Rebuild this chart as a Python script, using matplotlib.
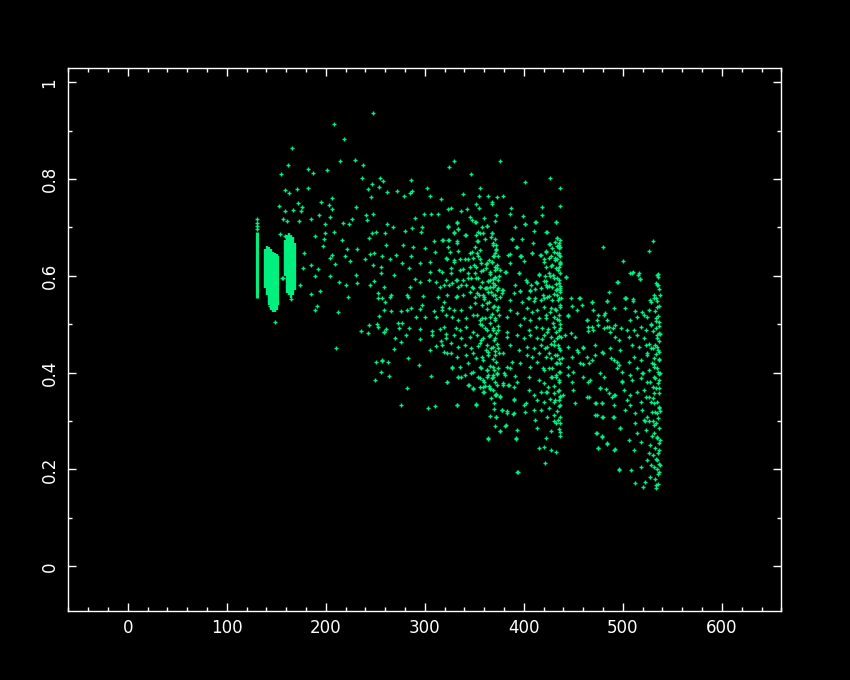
import numpy as np
import matplotlib
matplotlib.use("Agg")
import matplotlib.pyplot as plt
from matplotlib.ticker import MultipleLocator

GREEN = "#00f080"

# ---- axis ticks / labels ----
x_ticks = [0, 100, 200, 300, 400, 500, 600]
x_labels = ["0", "100", "200", "300", "400", "500", "600"]
y_ticks = [0.0, 0.2, 0.4, 0.6, 0.8, 1.0]
y_labels = ["0", "0.2", "0.4", "0.6", "0.8", "1"]

# ---- dense vertical bands of points (x, y low, y high) ----
line_x  = [131]
line_lo = [0.555]
line_hi = [0.690]
band_x  = [139, 141, 143, 145, 147, 149, 151, 152, 159, 161, 163, 165, 167, 169]
band_lo = [0.575, 0.560, 0.540, 0.530, 0.525, 0.525, 0.530, 0.540, 0.600, 0.565, 0.560, 0.555, 0.560, 0.570]
band_hi = [0.655, 0.662, 0.660, 0.655, 0.650, 0.648, 0.645, 0.640, 0.675, 0.685, 0.688, 0.685, 0.680, 0.668]

# ---- scattered points, x < 260 ----
pts_a = [(131,0.696),(131,0.703),(131,0.710),(131,0.718),
(248,0.936),(208,0.914),(218,0.882),(166,0.865),(162,0.830),(214,0.837),(229,0.839),(238,0.830),
(182,0.820),(201,0.819),(187,0.812),(155,0.810),(237,0.803),(255,0.803),(258,0.795),(247,0.790),
(254,0.783),(159,0.777),(171,0.779),(182,0.782),(163,0.771),(243,0.779),(206,0.760),(246,0.762),
(172,0.750),(195,0.752),(203,0.746),(153,0.745),(176,0.742),(230,0.743),(159,0.733),(167,0.736),
(175,0.733),(193,0.726),(206,0.738),(157,0.718),(161,0.713),(173,0.713),(185,0.718),(204,0.721),
(226,0.717),(241,0.726),(248,0.728),(199,0.707),(217,0.710),(223,0.707),(242,0.715),(199,0.688),
(208,0.691),(216,0.674),(189,0.683),(247,0.688),(251,0.690),(244,0.679),(198,0.676),(178,0.647),
(197,0.662),(206,0.643),(219,0.640),(221,0.655),(232,0.655),(245,0.645),(249,0.647),(204,0.636),
(224,0.631),(240,0.635),(248,0.623),(256,0.619),(257,0.640),(185,0.623),(209,0.625),(177,0.616),
(192,0.614),(189,0.600),(204,0.600),(220,0.581),(213,0.588),(230,0.602),(232,0.586),(249,0.589),
(245,0.581),(256,0.605),(185,0.563),(194,0.569),(174,0.581),(157,0.595),(222,0.557),(253,0.564),
(257,0.555),(149,0.505),(144,0.538),(189,0.530),(191,0.538),(212,0.526),(165,0.552),(210,0.450),
(236,0.487),(243,0.481),(244,0.498),(252,0.501),(253,0.494),(254,0.518),(259,0.530),(259,0.485),
(257,0.425),(251,0.423),(256,0.402),(250,0.385),(253,0.555),(154,0.687),(159,0.683),(156,0.596)]

# ---- scattered points, upper middle ----
pts_b = [(329,0.838),(376,0.837),(324,0.824),(347,0.811),(286,0.798),(302,0.782),(356,0.782),(262,0.774),
(272,0.775),(287,0.776),(279,0.766),(285,0.772),(305,0.766),(339,0.769),(355,0.766),(364,0.766),
(373,0.762),(379,0.766),(316,0.758),(368,0.753),(368,0.748),(352,0.749),(387,0.740),(323,0.738),
(326,0.740),(299,0.727),(313,0.727),(306,0.728),(337,0.733),(343,0.738),(355,0.740),(372,0.726),
(386,0.727),(290,0.720),(346,0.722),(360,0.719),(348,0.716),(352,0.712),(262,0.707),(332,0.711),
(323,0.701),(363,0.702),(368,0.689),(391,0.700),(297,0.700),(280,0.693),(287,0.698),(296,0.691),
(260,0.689),(268,0.700),(333,0.696),(354,0.691),(359,0.688),(329,0.689),(342,0.684),(309,0.672),
(318,0.674),(324,0.674),(332,0.673),(353,0.672),(369,0.667),(388,0.676),(278,0.664),(288,0.660),
(300,0.658),(261,0.664),(348,0.650),(356,0.653),(372,0.664),(371,0.647),(392,0.660),(310,0.650),
(325,0.650),(333,0.652),(271,0.643),(286,0.642),(265,0.635),(322,0.635),(329,0.632),(344,0.635),
(356,0.635),(365,0.633),(369,0.640),(384,0.643),(277,0.626),(295,0.626),(305,0.629),(269,0.602),
(284,0.616),(314,0.612),(326,0.616),(339,0.614),(350,0.623),(362,0.616),(371,0.619),(382,0.607),
(305,0.609),(290,0.594),(295,0.588),(304,0.592),(311,0.588),(332,0.592),(344,0.595),(352,0.595),
(366,0.592),(371,0.595),(391,0.581),(259,0.578),(285,0.576),(315,0.576),(324,0.581),(337,0.581),
(348,0.578),(356,0.576),(363,0.574),(369,0.578),(373,0.571),(379,0.571),(265,0.557),(282,0.561),
(298,0.559),(313,0.557),(332,0.558),(351,0.557),(360,0.557),(371,0.561),(378,0.564),(390,0.565)]

# ---- scattered points, upper right ----
pts_c = [(426,0.803),(401,0.793),(437,0.782),(436,0.745),(418,0.743),(418,0.726),(399,0.724),(411,0.712),
(432,0.712),(401,0.707),(410,0.693),(422,0.690),(398,0.676),(433,0.678),(409,0.667),(426,0.665),
(431,0.669),(435,0.664),(393,0.660),(408,0.648),(416,0.643),(422,0.652),(428,0.657),(433,0.647),
(437,0.640),(397,0.642),(420,0.635),(425,0.636),(431,0.633),(436,0.629),(422,0.618),(432,0.616),
(435,0.619),(395,0.605),(415,0.602),(426,0.600),(433,0.595),(443,0.598),(402,0.592),(412,0.588),
(420,0.590),(435,0.585),(407,0.581),(422,0.581),(428,0.578),(433,0.572),(437,0.567),(396,0.569),
(406,0.569),(411,0.573),(425,0.559),(435,0.555),(404,0.555),(411,0.554),(420,0.555),(456,0.555),
(480,0.659),(530,0.671),(526,0.652),(500,0.631),(507,0.605),(510,0.609),(515,0.602),(517,0.594),
(534,0.602),(535,0.581),(495,0.588),(486,0.567),(503,0.555),(510,0.552),(533,0.555),(448,0.555)]

# ---- scattered points, lower left-middle ----
pts_d = [(266,0.561),(283,0.557),(260,0.545),(266,0.527),(276,0.527),(282,0.530),(286,0.533),(295,0.532),
(297,0.540),(291,0.516),(300,0.514),(309,0.528),(311,0.516),(317,0.530),(319,0.547),(273,0.502),
(277,0.502),(284,0.492),(261,0.490),(274,0.493),(295,0.490),(307,0.487),(315,0.490),(321,0.479),
(259,0.483),(281,0.478),(270,0.471),(295,0.470),(307,0.477),(316,0.466),(276,0.463),(311,0.456),
(305,0.447),(269,0.449),(319,0.443),(326,0.440),(257,0.426),(263,0.423),(283,0.430),(294,0.416),
(327,0.411),(264,0.394),(306,0.394),(282,0.369),(322,0.381),(334,0.390),(337,0.392),(276,0.333),
(303,0.326),(310,0.331),(332,0.333),(352,0.335),(345,0.375),(349,0.366),(359,0.371),(360,0.361),
(366,0.366),(372,0.354),(376,0.352),(373,0.375),(379,0.378),(384,0.375),(390,0.370),(390,0.346),
(383,0.321),(378,0.322),(389,0.315),(372,0.309),(382,0.291),(376,0.280),(364,0.263),(392,0.263),
(393,0.195),(393,0.282),(386,0.409),(391,0.394),(393,0.380),(360,0.381),(369,0.395),(380,0.399),
(381,0.395),(363,0.390)]

# ---- scattered points, main dense area ----
pts_e = [(332,0.710),(351,0.712),(371,0.714),(401,0.707),(412,0.712),(432,0.712),(323,0.702),(333,0.696),
(358,0.700),(363,0.702),(368,0.688),(329,0.691),(341,0.684),(352,0.684),(356,0.688),(367,0.681),
(354,0.673),(388,0.676),(433,0.678),(317,0.674),(323,0.674),(361,0.676),(371,0.676),(423,0.691),
(435,0.667),(425,0.666),(397,0.641),(435,0.657),(430,0.650),(351,0.660),(369,0.664),(323,0.660),
(332,0.667),(346,0.647),(353,0.647),(372,0.653),(386,0.645),(408,0.648),(417,0.643),(422,0.650),
(427,0.640),(435,0.643),(321,0.636),(329,0.629),(336,0.634),(341,0.634),(349,0.636),(354,0.640),
(357,0.626),(363,0.626),(368,0.629),(373,0.622),(346,0.619),(352,0.619),(400,0.631),(420,0.629),
(428,0.622),(433,0.634),(437,0.626),(386,0.626),(396,0.641),
(317,0.609),(326,0.605),(336,0.612),(344,0.605),(351,0.605),(359,0.612),(366,0.609),(371,0.612),
(376,0.612),(381,0.607),(395,0.605),(415,0.603),(425,0.605),(436,0.605),(321,0.591),(331,0.591),
(339,0.591),(347,0.595),(354,0.595),(358,0.588),(364,0.590),(369,0.593),(374,0.591),(403,0.588),
(413,0.586),(422,0.590),(430,0.595),(443,0.598),(509,0.605),(516,0.605),(535,0.604),(494,0.588),
(517,0.593),(534,0.581),
(319,0.581),(327,0.585),(334,0.578),(342,0.581),(349,0.574),(356,0.578),(361,0.574),(366,0.578),
(371,0.581),(378,0.571),(396,0.569),(406,0.571),(417,0.574),(423,0.578),(432,0.571),(437,0.574),
(322,0.560),(331,0.557),(339,0.560),(346,0.567),(353,0.564),(359,0.560),(364,0.567),(369,0.560),
(376,0.557),(386,0.550),(398,0.547),(405,0.554),(410,0.549),(417,0.550),(423,0.557),(433,0.560),
(438,0.554),(457,0.554),(469,0.545),(484,0.549),(502,0.555),(510,0.549),(531,0.554),(528,0.547),
(317,0.536),(324,0.533),(329,0.529),(337,0.529),(346,0.536),(351,0.543),(358,0.540),(363,0.543),
(369,0.536),(374,0.536),(386,0.529),(393,0.523),(403,0.533),(408,0.526),(413,0.529),(420,0.536),
(427,0.533),(432,0.529),(437,0.535),(445,0.519),(449,0.538),(454,0.529),(459,0.540),(470,0.529),
(482,0.523),(491,0.533),(502,0.533),(512,0.528),(519,0.526),(526,0.529),(534,0.536),(321,0.519),
(327,0.516),(334,0.509),(342,0.512),(349,0.519),(356,0.509),(361,0.512),(366,0.516),(371,0.509),
(383,0.516),(400,0.512),(406,0.509),(415,0.512),(422,0.512),(430,0.516),(435,0.509),(464,0.509),
(474,0.509),(484,0.509),(507,0.509),(514,0.516),(524,0.516),(533,0.512),(536,0.505),
(319,0.495),(331,0.492),(336,0.488),(342,0.495),(349,0.485),(358,0.498),(363,0.488),(369,0.492),
(374,0.488),(383,0.485),(396,0.498),(405,0.488),(412,0.495),(418,0.492),(423,0.485),(430,0.495),
(435,0.488),(442,0.478),(448,0.481),(452,0.474),(465,0.495),(470,0.488),(475,0.498),(481,0.492),
(486,0.495),(492,0.498),(504,0.488),(511,0.488),(518,0.495),(523,0.488),(528,0.498),(533,0.492),
(536,0.481),(321,0.471),(329,0.478),(337,0.471),(346,0.474),(353,0.478),(359,0.471),(366,0.478),
(371,0.471),(383,0.474),(393,0.478),(400,0.471),(406,0.478),(413,0.471),(420,0.478),(427,0.474),
(433,0.471),(438,0.474),(506,0.474),(514,0.478),(521,0.471),(534,0.471),
(317,0.457),(326,0.461),(334,0.454),(341,0.457),(347,0.450),(356,0.461),(363,0.457),(369,0.454),
(374,0.450),(386,0.457),(395,0.447),(403,0.454),(410,0.450),(417,0.457),(423,0.454),(430,0.457),
(435,0.450),(445,0.454),(454,0.447),(460,0.450),(472,0.457),(479,0.443),(487,0.450),(497,0.447),
(509,0.457),(516,0.454),(523,0.457),(528,0.450),(534,0.454),(536,0.443),(322,0.440),(332,0.433),
(342,0.436),(349,0.440),(358,0.433),(364,0.443),(371,0.436),(379,0.440),(388,0.423),(403,0.436),
(408,0.433),(415,0.440),(422,0.433),(427,0.430),(433,0.436),(439,0.430),(449,0.433),(457,0.419),
(464,0.433),(469,0.426),(491,0.426),(496,0.416),(506,0.423),(511,0.433),(518,0.426),(524,0.436),
(531,0.430),(536,0.426),
(327,0.409),(336,0.412),(344,0.419),(349,0.402),(356,0.412),(363,0.405),(369,0.412),(373,0.399),
(383,0.412),(396,0.419),(406,0.412),(413,0.423),(420,0.405),(425,0.409),(432,0.419),(435,0.402),
(445,0.412),(450,0.402),(460,0.392),(467,0.385),(477,0.399),(494,0.409),(499,0.402),(507,0.395),
(514,0.409),(519,0.399),(526,0.405),(531,0.412),(535,0.402),(322,0.381),(334,0.392),(341,0.395),
(347,0.399),(354,0.392),(359,0.385),(364,0.395),(369,0.392),(379,0.374),(405,0.392),(415,0.385),
(420,0.378),(427,0.392),(432,0.395),(435,0.385),(449,0.381),(465,0.381),(481,0.392),(499,0.381),
(509,0.385),(518,0.388),(524,0.381),(531,0.392),(536,0.385),
(349,0.368),(359,0.361),(366,0.368),(371,0.354),(376,0.350),(385,0.374),(390,0.343),(405,0.364),
(410,0.354),(417,0.361),(423,0.361),(430,0.357),(435,0.364),(440,0.354),(450,0.364),(464,0.350),
(477,0.368),(486,0.357),(491,0.354),(501,0.364),(507,0.354),(514,0.361),(521,0.364),(526,0.350),
(531,0.357),(536,0.368),(344,0.374),(356,0.371),(402,0.337),(413,0.343),(420,0.340),(430,0.340),
(435,0.343),(437,0.333),(425,0.326),(410,0.323),(400,0.333),
(332,0.333),(352,0.333),(378,0.323),(383,0.317),(390,0.316),(401,0.319),(417,0.323),(423,0.309),
(430,0.312),(434,0.302),(437,0.295),(472,0.337),(479,0.337),(491,0.333),(474,0.312),(480,0.309),
(491,0.309),(502,0.323),(507,0.333),(512,0.316),(519,0.323),(524,0.309),(529,0.319),(534,0.316),
(536,0.330),(531,0.337),(518,0.340),(504,0.343),
(372,0.309),(381,0.290),(376,0.280),(364,0.264),(392,0.264),(411,0.303),(413,0.285),(422,0.266),
(420,0.247),(415,0.244),(427,0.240),(432,0.237),(437,0.277),(473,0.275),(475,0.244),(479,0.268),
(484,0.254),(491,0.241),(497,0.285),(506,0.261),(511,0.240),(514,0.275),(518,0.257),(523,0.281),
(526,0.233),(531,0.292),(534,0.268),(536,0.240),(521,0.302),(512,0.295),
(394,0.195),(421,0.213),(496,0.200),(508,0.199),(512,0.171),(520,0.164),(522,0.175),(527,0.185),
(533,0.168),(536,0.195),(531,0.206),(524,0.219),(518,0.206),(534,0.219),(533,0.161)]

# ---- scattered points between the right-hand groups ----
pts_f = [(445,0.518),(464,0.509),(469,0.545),(484,0.548),(502,0.555),(469,0.495),(465,0.487),(475,0.519),
(481,0.519),(484,0.494),(490,0.492),(487,0.485),(492,0.474),(496,0.467),(498,0.492),(455,0.443),
(460,0.452),(460,0.418),(466,0.419),(472,0.437),(480,0.440),(488,0.431),(494,0.423),(499,0.383),
(492,0.354),(489,0.350),(477,0.369),(483,0.366),(466,0.350),(452,0.337),(445,0.395),(473,0.337),
(479,0.337),(472,0.313),(479,0.309),(490,0.309),(497,0.285),(474,0.275),(479,0.269),(484,0.253),
(475,0.244),(492,0.242),(496,0.199)]

# ---- extra points along the three dense right edges ----
pts_g = [(372,0.655),(370,0.642),(368,0.628),(373,0.617),(366,0.603),(371,0.598),(369,0.585),(374,0.574),
(367,0.566),(372,0.553),(365,0.547),(370,0.538),(373,0.529),(368,0.521),(371,0.512),(366,0.503),
(374,0.497),(369,0.489),(372,0.481),(365,0.476),(370,0.468),(373,0.459),(367,0.451),(371,0.444),
(364,0.437),(369,0.428),(372,0.421),(366,0.414),(370,0.406),(373,0.398),(368,0.389),(371,0.381),
(365,0.372),(369,0.364),(372,0.356),(367,0.347),(370,0.338),(362,0.575),(360,0.553),(363,0.531),
(358,0.512),(361,0.493),(357,0.468),(362,0.447),(359,0.426),(363,0.405),(356,0.389),(361,0.372),
(364,0.590),(357,0.610),(362,0.625),(355,0.560),(353,0.520),(356,0.500),(354,0.455),(352,0.430),
(357,0.410),(374,0.640),(375,0.600),(375,0.520),(375,0.440),(374,0.410),(370,0.325),(366,0.310),
(371,0.290),
(436,0.675),(433,0.662),(435,0.648),(431,0.637),(436,0.625),(434,0.613),(429,0.602),(435,0.591),
(432,0.583),(436,0.571),(430,0.562),(434,0.551),(436,0.540),(431,0.531),(435,0.520),(433,0.511),
(429,0.502),(436,0.493),(432,0.484),(435,0.475),(430,0.466),(434,0.457),(436,0.446),(431,0.437),
(435,0.428),(433,0.419),(428,0.410),(436,0.401),(432,0.392),(435,0.381),(430,0.372),(434,0.363),
(436,0.352),(431,0.343),(435,0.331),(433,0.320),(436,0.308),(432,0.296),(435,0.284),(436,0.270),
(427,0.620),(425,0.580),(428,0.550),(426,0.525),(424,0.490),(427,0.460),(425,0.440),(428,0.390),
(424,0.370),(426,0.345),(421,0.600),(419,0.560),(422,0.520),(418,0.470),(421,0.450),(419,0.410),
(422,0.360),(437,0.660),(437,0.580),(437,0.500),(437,0.420),(437,0.350),(430,0.300),(427,0.280),
(535,0.598),(533,0.585),(536,0.572),(531,0.561),(534,0.549),(536,0.538),(532,0.527),(535,0.518),
(533,0.507),(536,0.496),(530,0.486),(534,0.477),(536,0.466),(532,0.457),(535,0.447),(533,0.438),
(536,0.428),(531,0.418),(534,0.409),(536,0.398),(532,0.389),(535,0.379),(533,0.369),(536,0.358),
(530,0.348),(534,0.339),(536,0.328),(532,0.318),(535,0.307),(533,0.297),(536,0.286),(531,0.276),
(534,0.265),(536,0.254),(532,0.244),(535,0.233),(533,0.222),(536,0.211),(534,0.200),(535,0.190),
(532,0.180),(535,0.170),(527,0.550),(528,0.500),(526,0.460),(529,0.420),(527,0.380),(528,0.340),
(526,0.300),(529,0.270),(527,0.250),(528,0.210),(524,0.440),(523,0.350),(522,0.300),(521,0.520),
(520,0.400),(537,0.560),(537,0.480),(537,0.400),(537,0.320),(537,0.260),(537,0.210),(530,0.450),
(530,0.370),(530,0.300),(530,0.230)]

point_groups = [pts_a, pts_b, pts_c, pts_d, pts_e, pts_f, pts_g]

plt.rcParams['font.family'] = ['DejaVu Sans']
fig = plt.figure(figsize=(8.5, 6.8), dpi=100, facecolor='black')
ax = fig.add_axes([0.0804, 0.1015, 0.8388, 0.7981], facecolor='black')

ax.vlines(line_x, line_lo, line_hi, colors=GREEN, linewidth=2.3)
ax.vlines(band_x, band_lo, band_hi, colors=GREEN, linewidth=1.7)
for grp in point_groups:
    arr = np.array(grp, dtype=float)
    ax.plot(arr[:, 0], arr[:, 1], linestyle='none', marker='+',
            markersize=3.4, markeredgewidth=1.0, color=GREEN)

ax.set_xlim(-60, 660)
ax.set_ylim(-0.0924, 1.0289)

ax.set_xticks(x_ticks)
ax.set_xticklabels(x_labels)
ax.set_yticks(y_ticks)
ax.set_yticklabels(y_labels, rotation=90, va='center')
ax.xaxis.set_minor_locator(MultipleLocator(20))
ax.yaxis.set_minor_locator(MultipleLocator(0.1))

ax.tick_params(which='both', direction='in', top=True, right=True,
               colors='white', labelcolor='white', width=1.0)
ax.tick_params(which='major', length=5.8)
ax.tick_params(which='minor', length=2.9)
ax.tick_params(axis='x', which='major', pad=6, labelsize=12)
ax.tick_params(axis='y', which='major', pad=7, labelsize=12)

for s in ax.spines.values():
    s.set_color('white')
    s.set_linewidth(1.0)

fig.savefig('out.png', dpi=100, facecolor='black')
